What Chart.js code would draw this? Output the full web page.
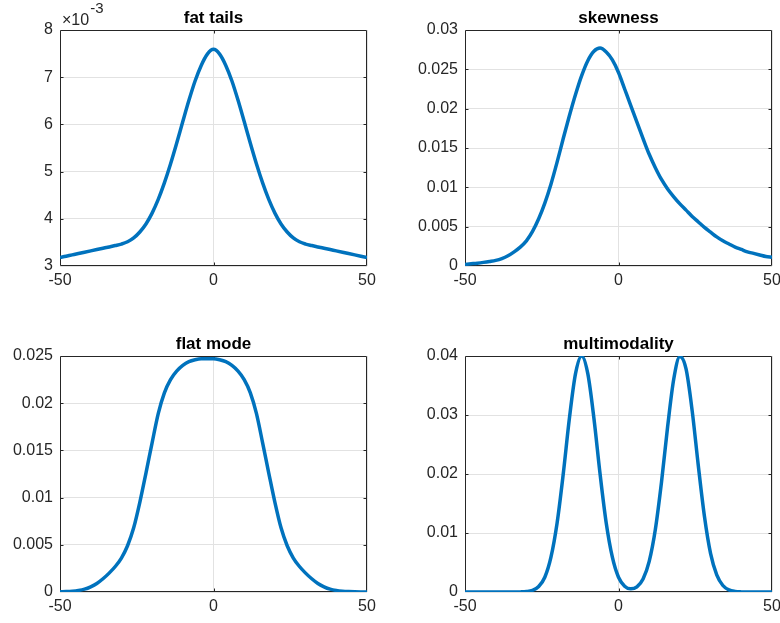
<!DOCTYPE html>
<html>
<head>
<meta charset="utf-8">
<script src="https://cdn.jsdelivr.net/npm/chart.js@4.4.1/dist/chart.umd.min.js"></script>
<style>
html,body{margin:0;padding:0;background:#fff;overflow:hidden;width:780px;height:623px;}
.panel{position:absolute;width:400px;height:300px;}
canvas{display:block;}
</style>
</head>
<body>
<div class="panel" style="left:0px;top:0px"><canvas id="c1" width="400" height="300"></canvas></div>
<div class="panel" style="left:405px;top:0px"><canvas id="c2" width="400" height="300"></canvas></div>
<div class="panel" style="left:0px;top:326px"><canvas id="c3" width="400" height="300"></canvas></div>
<div class="panel" style="left:405px;top:326px"><canvas id="c4" width="400" height="300"></canvas></div>
<script>
// ---- data ----
const xValues = [-50,-48,-46,-44,-42,-40,-38,-36,-34,-32,-30,-28,-26,-24,-22,-20,-18,-16,-14,-12,-10,-8,-6,-4,-2,
                 0,2,4,6,8,10,12,14,16,18,20,22,24,26,28,30,32,34,36,38,40,42,44,46,48,50];

// fat tails, in units of 10^-3
const fatTails = [3.180,3.208,3.236,3.264,3.292,3.320,3.348,3.376,3.404,3.433,3.465,3.513,3.595,3.720,3.890,4.120,4.410,4.760,5.160,5.600,6.060,6.510,6.920,7.250,7.490,
                  7.590,7.490,7.250,6.920,6.510,6.060,5.600,5.160,4.760,4.410,4.120,3.890,3.720,3.595,3.513,3.465,3.433,3.404,3.376,3.348,3.320,3.292,3.264,3.236,3.208,3.180];

const skewness = [0.0002,0.00028,0.00036,0.00046,0.00058,0.00072,0.00095,0.0013,0.0018,0.0024,0.0032,0.0044,0.0060,0.0080,0.0104,0.0132,0.0162,0.0191,0.0218,0.0242,0.0261,0.0273,0.0277,0.0272,0.0262,
                  0.0246,0.0225,0.0204,0.0183,0.0162,0.0142,0.0125,0.0110,0.0098,0.0088,0.0079,0.0071,0.0063,0.0056,0.0049,0.0043,0.0037,0.0032,0.0028,0.0024,0.0021,0.0018,0.0016,0.0014,0.0012,0.0011];

const flatMode = [0.00002,0.00004,0.00008,0.00016,0.0003,0.00055,0.0009,0.0014,0.0020,0.0027,0.0036,0.0049,0.0068,0.0095,0.0126,0.0158,0.0189,0.0211,0.0225,0.0234,0.0240,0.0244,0.0246,0.0247,0.0247,
                  0.0247,0.0246,0.0244,0.0240,0.0234,0.0225,0.0211,0.0189,0.0158,0.0126,0.0095,0.0068,0.0049,0.0036,0.0027,0.0020,0.0014,0.0009,0.00055,0.0003,0.00016,0.00008,0.00004,0.00002,0.00001,0.00001];

const multimodality = [0,0,0,0,0,0,0,0,0,0.00002,0.00008,0.00029,0.00092,0.0025,0.0059,0.0117,0.0200,0.0294,0.0370,0.0400,0.0370,0.0294,0.0200,0.0117,0.0059,
                       0.0025,0.00098,0.00053,0.00087,0.0022,0.0052,0.0106,0.0186,0.0280,0.0361,0.0399,0.0378,0.0307,0.0214,0.0128,0.0065,0.0029,0.0011,0.00035,0.0001,0.00002,0,0,0,0,0];

const titles = ['fat tails', 'skewness', 'flat mode', 'multimodality'];

const xTicks = [-50, 0, 50];
const xTickLabels = ['-50', '0', '50'];

const fatTicks = [3, 4, 5, 6, 7, 8];
const fatTickLabels = ['3', '4', '5', '6', '7', '8'];
const skewTicks = [0, 0.005, 0.01, 0.015, 0.02, 0.025, 0.03];
const skewTickLabels = ['0', '0.005', '0.01', '0.015', '0.02', '0.025', '0.03'];
const flatTicks = [0, 0.005, 0.01, 0.015, 0.02, 0.025];
const flatTickLabels = ['0', '0.005', '0.01', '0.015', '0.02', '0.025'];
const multiTicks = [0, 0.01, 0.02, 0.03, 0.04];
const multiTickLabels = ['0', '0.01', '0.02', '0.03', '0.04'];

const fatExponent = '-3';

// ---- styling ----
const FONT = '"Liberation Sans", Arial, Helvetica, sans-serif';
const AXIS = '#262626';
const GRID = '#e2e2e2';
const LINE = '#0072BD';

Chart.defaults.font.family = FONT;

const framePlugin = {
  id: 'frame',
  beforeDatasetsDraw(chart) {
    const { ctx, chartArea: a, scales } = chart;
    ctx.save();
    ctx.strokeStyle = AXIS;
    ctx.lineWidth = 1;
    const L = a.left + 0.5, R = a.right - 0.5, T = a.top + 0.5, B = a.bottom - 0.5;
    ctx.beginPath();
    ctx.rect(L, T, R - L, B - T);
    const tl = 3;
    scales.x.ticks.forEach(t => {
      const px = Math.round(scales.x.getPixelForValue(t.value)) + 0.5;
      if (px < L + 1 || px > R - 1) return;
      ctx.moveTo(px, B); ctx.lineTo(px, B - tl);
      ctx.moveTo(px, T); ctx.lineTo(px, T + tl);
    });
    scales.y.ticks.forEach(t => {
      const py = Math.round(scales.y.getPixelForValue(t.value)) + 0.5;
      if (py < T + 1 || py > B - 1) return;
      ctx.moveTo(L, py); ctx.lineTo(L + tl, py);
      ctx.moveTo(R, py); ctx.lineTo(R - tl, py);
    });
    ctx.stroke();
    ctx.restore();
  },
  afterDraw(chart) {
    const { ctx, chartArea: a } = chart;
    const o = chart.options.plugins.frame || {};
    ctx.save();
    ctx.fillStyle = '#000';
    ctx.font = 'bold 17px ' + FONT;
    ctx.textAlign = 'center';
    ctx.textBaseline = 'alphabetic';
    if (o.title) ctx.fillText(o.title, (a.left + a.right) / 2, a.top - 7);
    if (o.exponent) {
      ctx.fillStyle = AXIS;
      ctx.textAlign = 'left';
      ctx.font = '16px ' + FONT;
      ctx.fillText('\u00d710', a.left + 2, a.top - 5);
      const w = ctx.measureText('\u00d710').width;
      ctx.font = '15px ' + FONT;
      ctx.fillText(o.exponent, a.left + 3 + w, a.top - 17);
    }
    ctx.restore();
  }
};

function makeChart(id, series, title, yMin, yMax, yTicks, yLabels, exponent) {
  return new Chart(document.getElementById(id), {
    type: 'line',
    data: {
      datasets: [{
        data: xValues.map((x, i) => ({ x: x, y: series[i] })),
        borderColor: LINE,
        borderWidth: 3.5,
        pointRadius: 0,
        fill: false,
        cubicInterpolationMode: 'monotone'
      }]
    },
    options: {
      responsive: false,
      animation: false,
      devicePixelRatio: 1,
      layout: { padding: { left: 0, top: 30, right: 33, bottom: 0 } },
      plugins: {
        legend: { display: false },
        tooltip: { enabled: false },
        title: { display: false },
        frame: { title: title, exponent: exponent }
      },
      scales: {
        x: {
          type: 'linear',
          min: -50, max: 50,
          afterBuildTicks: s => { s.ticks = xTicks.map(v => ({ value: v })); },
          afterFit: s => { s.height = 34; },
          ticks: {
            color: AXIS,
            font: { size: 16, family: FONT },
            padding: 5,
            maxRotation: 0,
            autoSkip: false,
            callback: (v, i) => xTickLabels[i]
          },
          grid: { color: GRID, lineWidth: 1, drawTicks: false },
          border: { display: false }
        },
        y: {
          type: 'linear',
          min: yMin, max: yMax,
          afterBuildTicks: s => { s.ticks = yTicks.map(v => ({ value: v })); },
          afterFit: s => { s.width = 60; },
          ticks: {
            color: AXIS,
            font: { size: 16, family: FONT },
            padding: 7,
            autoSkip: false,
            callback: (v, i) => yLabels[i]
          },
          grid: { color: GRID, lineWidth: 1, drawTicks: false },
          border: { display: false }
        }
      }
    },
    plugins: [framePlugin]
  });
}

makeChart('c1', fatTails, titles[0], 3, 8, fatTicks, fatTickLabels, fatExponent);
makeChart('c2', skewness, titles[1], 0, 0.03, skewTicks, skewTickLabels, null);
makeChart('c3', flatMode, titles[2], 0, 0.025, flatTicks, flatTickLabels, null);
makeChart('c4', multimodality, titles[3], 0, 0.04, multiTicks, multiTickLabels, null);
</script>
</body>
</html>
